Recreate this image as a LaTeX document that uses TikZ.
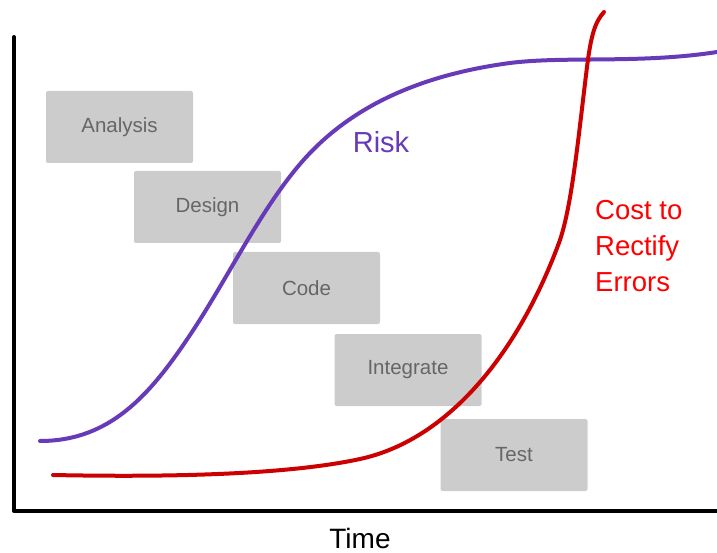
\documentclass[tikz,border=0pt]{standalone}
\usepackage{xcolor}
\usepackage{fontspec}
\setmainfont{Liberation Sans}
\definecolor{riskpurple}{HTML}{673AB7}
\definecolor{costred}{HTML}{CC0000}
\definecolor{boxgray}{HTML}{CCCCCC}
\definecolor{textgray}{HTML}{666666}

\begin{document}
\begin{tikzpicture}[x=1pt, y=-1pt,
    phase/.style={rectangle, rounded corners=2pt, fill=boxgray, text=textgray,
      minimum width=147pt, minimum height=72pt, font=\fontsize{20.5}{24}\selectfont}]
  \useasboundingbox (0,0) rectangle (717,553);

  % phase boxes
  \node (analysis) at (119.5, 127) [phase] {Analysis};
  \node (design) at (207.5, 207) [phase] {Design};
  \node (code) at (306.5, 288) [phase] {Code};
  \node (integrate) at (408, 370) [phase] {Integrate};
  \node (test) at (514, 455) [phase] {Test};

  % axes
  \coordinate (top) at (14, 37);
  \coordinate (origin) at (14, 511);
  \coordinate (right) at (717, 511);
  \draw[line width=4pt, line cap=round, line join=round] (top) -- (origin) -- (right);

  % curves
  \draw[riskpurple, line width=4pt, line cap=round]
    (40,441) .. controls (110,441) and (150,395) .. (190,335)
    .. controls (230,275) and (265,200) .. (310,153)
    .. controls (355,106) and (420,75) .. (510,63)
    .. controls (565,56) and (640,64) .. (717,52);
  \draw[costred, line width=4pt, line cap=round]
    (53,475) .. controls (200,478) and (300,472) .. (360,459)
    .. controls (450,439.5) and (520,350) .. (560,240)
    .. controls (572,204) and (578,140) .. (587,67)
    .. controls (591,35) and (595,22) .. (604,12);

  % labels
  \node (risk) at (381, 142.5) [text=riskpurple, font=\fontsize{29}{34}\selectfont] {Risk};
  \node (cost) at (595, 246) [anchor=west, inner xsep=0pt, text=red, align=left,
    font=\fontsize{27.5}{36}\selectfont] {Cost to\\Rectify\\Errors};
  \node (time) at (360, 548) [anchor=base, inner sep=0pt, font=\fontsize{28}{32}\selectfont] {Time};
\end{tikzpicture}
\end{document}
